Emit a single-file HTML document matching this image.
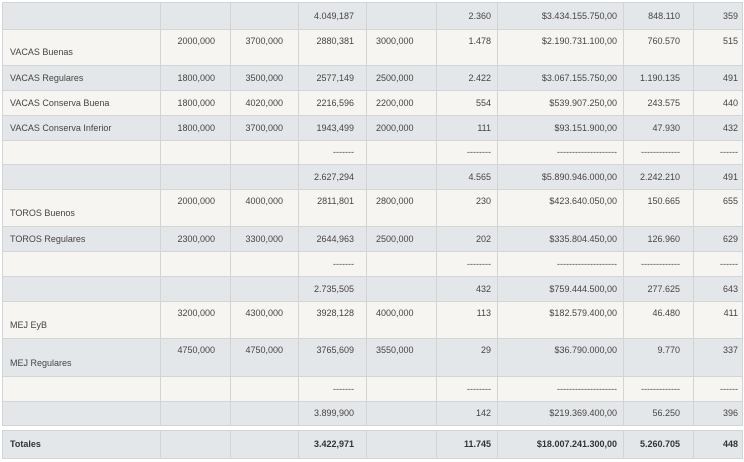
<!DOCTYPE html>
<html><head><meta charset="utf-8"><style>
body{margin:0;background:#fff;width:744px;height:462px;overflow:hidden;font-family:"Liberation Sans",sans-serif;font-size:9px;color:#444}
table{position:absolute;left:2px;border-collapse:collapse;table-layout:fixed}
td{border:1px solid #d2d4d6;padding:0 6px;text-align:right;white-space:nowrap;overflow:hidden;line-height:11px}
td:first-child{text-align:left;padding-left:7px}
tr.g td{background:#e4e7ea}
tr.l td{background:#f6f5f2}
td.c2,td.c3{padding-right:15px}
td.c4{padding-right:12px}
td.c5{text-align:left;padding-left:9px}
td.c8{padding-right:13px}
td.c9{padding-right:4px}
tr.t td{vertical-align:top;padding-top:6px}
tr.t td:first-child{vertical-align:bottom;padding-bottom:7px;padding-top:0}
tr.b td{font-weight:bold;color:#333}
</style></head><body>
<table id="t1" style="top:2px">
<colgroup><col style="width:158px"><col style="width:70px"><col style="width:68px"><col style="width:68px"><col style="width:70px"><col style="width:61px"><col style="width:126px"><col style="width:70px"><col style="width:49px"></colgroup>
<tr class="g" style="height:27px"><td></td><td class="c2"></td><td class="c3"></td><td class="c4">4.049,187</td><td class="c5"></td><td>2.360</td><td>$3.434.155.750,00</td><td class="c8">848.110</td><td class="c9">359</td></tr>
<tr class="l t" style="height:36px"><td>VACAS Buenas</td><td class="c2">2000,000</td><td class="c3">3700,000</td><td class="c4">2880,381</td><td class="c5">3000,000</td><td>1.478</td><td>$2.190.731.100,00</td><td class="c8">760.570</td><td class="c9">515</td></tr>
<tr class="g" style="height:25px"><td>VACAS Regulares</td><td class="c2">1800,000</td><td class="c3">3500,000</td><td class="c4">2577,149</td><td class="c5">2500,000</td><td>2.422</td><td>$3.067.155.750,00</td><td class="c8">1.190.135</td><td class="c9">491</td></tr>
<tr class="l" style="height:25px"><td>VACAS Conserva Buena</td><td class="c2">1800,000</td><td class="c3">4020,000</td><td class="c4">2216,596</td><td class="c5">2200,000</td><td>554</td><td>$539.907.250,00</td><td class="c8">243.575</td><td class="c9">440</td></tr>
<tr class="g" style="height:25px"><td>VACAS Conserva Inferior</td><td class="c2">1800,000</td><td class="c3">3700,000</td><td class="c4">1943,499</td><td class="c5">2000,000</td><td>111</td><td>$93.151.900,00</td><td class="c8">47.930</td><td class="c9">432</td></tr>
<tr class="l" style="height:24px"><td></td><td class="c2"></td><td class="c3"></td><td class="c4">-------</td><td class="c5"></td><td>--------</td><td>--------------------</td><td class="c8">-------------</td><td class="c9">------</td></tr>
<tr class="g" style="height:25px"><td></td><td class="c2"></td><td class="c3"></td><td class="c4">2.627,294</td><td class="c5"></td><td>4.565</td><td>$5.890.946.000,00</td><td class="c8">2.242.210</td><td class="c9">491</td></tr>
<tr class="l t" style="height:37px"><td>TOROS Buenos</td><td class="c2">2000,000</td><td class="c3">4000,000</td><td class="c4">2811,801</td><td class="c5">2800,000</td><td>230</td><td>$423.640.050,00</td><td class="c8">150.665</td><td class="c9">655</td></tr>
<tr class="g" style="height:25px"><td>TOROS Regulares</td><td class="c2">2300,000</td><td class="c3">3300,000</td><td class="c4">2644,963</td><td class="c5">2500,000</td><td>202</td><td>$335.804.450,00</td><td class="c8">126.960</td><td class="c9">629</td></tr>
<tr class="l" style="height:25px"><td></td><td class="c2"></td><td class="c3"></td><td class="c4">-------</td><td class="c5"></td><td>--------</td><td>--------------------</td><td class="c8">-------------</td><td class="c9">------</td></tr>
<tr class="g" style="height:25px"><td></td><td class="c2"></td><td class="c3"></td><td class="c4">2.735,505</td><td class="c5"></td><td>432</td><td>$759.444.500,00</td><td class="c8">277.625</td><td class="c9">643</td></tr>
<tr class="l t" style="height:37px"><td>MEJ EyB</td><td class="c2">3200,000</td><td class="c3">4300,000</td><td class="c4">3928,128</td><td class="c5">4000,000</td><td>113</td><td>$182.579.400,00</td><td class="c8">46.480</td><td class="c9">411</td></tr>
<tr class="g t" style="height:38px"><td>MEJ Regulares</td><td class="c2">4750,000</td><td class="c3">4750,000</td><td class="c4">3765,609</td><td class="c5">3550,000</td><td>29</td><td>$36.790.000,00</td><td class="c8">9.770</td><td class="c9">337</td></tr>
<tr class="l" style="height:25px"><td></td><td class="c2"></td><td class="c3"></td><td class="c4">-------</td><td class="c5"></td><td>--------</td><td>--------------------</td><td class="c8">-------------</td><td class="c9">------</td></tr>
<tr class="g" style="height:24px"><td></td><td class="c2"></td><td class="c3"></td><td class="c4">3.899,900</td><td class="c5"></td><td>142</td><td>$219.369.400,00</td><td class="c8">56.250</td><td class="c9">396</td></tr>
</table>
<table style="top:430px">
<colgroup><col style="width:158px"><col style="width:70px"><col style="width:68px"><col style="width:68px"><col style="width:70px"><col style="width:61px"><col style="width:126px"><col style="width:70px"><col style="width:49px"></colgroup>
<tr class="g b" style="height:28px"><td>Totales</td><td class="c2"></td><td class="c3"></td><td class="c4">3.422,971</td><td class="c5"></td><td>11.745</td><td>$18.007.241.300,00</td><td class="c8">5.260.705</td><td class="c9">448</td></tr>
</table>
</body></html>
